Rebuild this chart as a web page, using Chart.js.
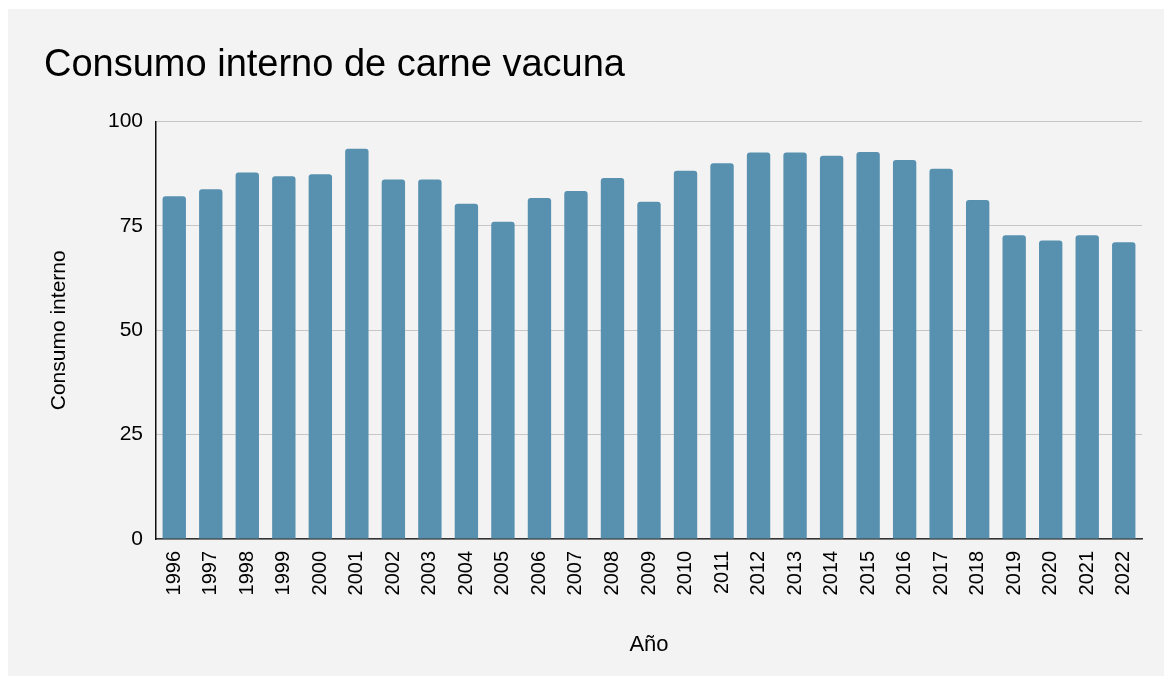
<!DOCTYPE html>
<html>
<head>
<meta charset="utf-8">
<script src="https://cdn.jsdelivr.net/npm/chart.js@4.4.1/dist/chart.umd.min.js"></script>
<style>
  html, body { margin: 0; padding: 0; background: #ffffff; }
  #card { position: absolute; left: 8px; top: 9px; width: 1156px; height: 667px; background: #f3f3f3; }
  canvas { display: block; }
</style>
</head>
<body>
<div id="card"><canvas id="c" width="1156" height="667"></canvas></div>
<script>
const years = ['1996','1997','1998','1999','2000','2001','2002','2003','2004','2005','2006','2007','2008','2009','2010','2011','2012','2013','2014','2015','2016','2017','2018','2019','2020','2021','2022'];
const consumo = [82.1, 83.8, 87.8, 86.9, 87.4, 93.5, 86.1, 86.1, 80.3, 76.0, 81.7, 83.4, 86.5, 80.8, 88.2, 90.0, 92.6, 92.6, 91.8, 92.7, 90.8, 88.7, 81.2, 72.8, 71.5, 72.8, 71.1];
const yTicks = [0, 25, 50, 75, 100];
const chartTitle = 'Consumo interno de carne vacuna';
const yTitle = 'Consumo interno';
const xTitle = 'Año';

const FONT = "'Liberation Sans', Arial, sans-serif";

new Chart(document.getElementById('c'), {
  type: 'bar',
  data: {
    labels: years,
    datasets: [{
      label: yTitle,
      data: consumo,
      backgroundColor: '#5891b0',
      borderRadius: { topLeft: 3, topRight: 3, bottomLeft: 0, bottomRight: 0 },
      borderSkipped: 'start',
      barPercentage: 0.64,
      categoryPercentage: 1.0
    }]
  },
  options: {
    responsive: false,
    animation: false,
    layout: { padding: { left: 36, right: 22, top: 0, bottom: 18 } },
    plugins: {
      legend: { display: false },
      tooltip: { enabled: false },
      title: {
        display: true,
        text: chartTitle,
        align: 'start',
        color: '#000000',
        font: { family: FONT, size: 38, weight: 'normal', lineHeight: 1.2 },
        padding: { top: 34, bottom: 33 }
      }
    },
    scales: {
      x: {
        grid: { display: false, drawTicks: false },
        border: { display: true, color: '#333333', width: 1.5 },
        ticks: {
          color: '#000000',
          font: { family: FONT, size: 20 },
          minRotation: 90,
          maxRotation: 90,
          padding: 12,
          autoSkip: false
        },
        title: {
          display: true,
          text: xTitle,
          color: '#000000',
          font: { family: FONT, size: 22 },
          padding: { top: 0, bottom: 0 }
        },
        afterFit: (s) => { s.height = 119; }
      },
      y: {
        min: 0,
        max: 100,
        afterBuildTicks: (s) => { s.ticks = yTicks.map(v => ({ value: v })); },
        grid: { color: '#c6c6c6', lineWidth: 1, drawTicks: false },
        border: { display: true, color: '#111111', width: 1.5 },
        ticks: {
          color: '#000000',
          font: { family: FONT, size: 21 },
          padding: 13
        },
        title: {
          display: true,
          text: yTitle,
          color: '#000000',
          font: { family: FONT, size: 21 },
          padding: { top: 3, bottom: 0 }
        },
        afterFit: (s) => { s.width = 112; }
      }
    }
  }
});
</script>
</body>
</html>
